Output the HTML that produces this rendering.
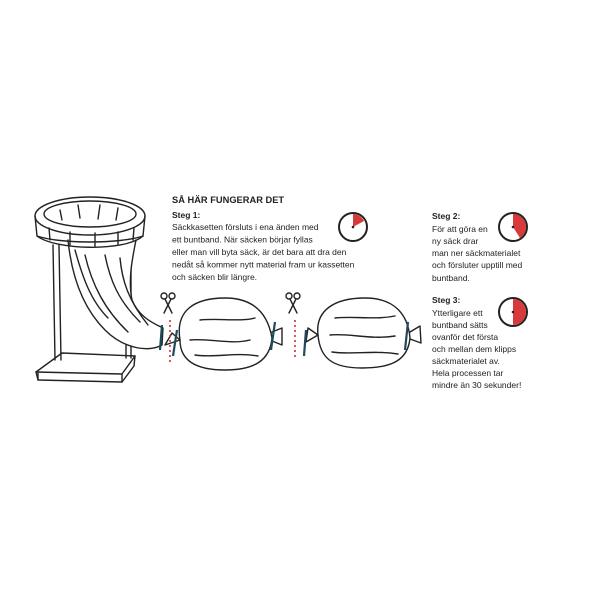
<!DOCTYPE html>
<html><head><meta charset="utf-8"><style>
body{margin:0;background:#fff;width:600px;height:600px;overflow:hidden}
svg{display:block}
text{font-family:"Liberation Sans",sans-serif;fill:#222}
</style></head><body>
<svg width="600" height="600" viewBox="0 0 600 600" xmlns="http://www.w3.org/2000/svg">
<g fill="none" stroke="#222" stroke-width="1.4" stroke-linejoin="round" stroke-linecap="round">
<!-- base -->
<path d="M36 372 L62 353 L135 356 L134 366 L122 382 L38 380 Z" fill="#fff"/>
<path d="M38 380 L38 372 M122 382 L122 374 L36 372 M122 374 L135 356"/>
<!-- poles -->
<path d="M53 245 L55 360 M59 245 L61 360 M126 250 L126 358 M131 250 L131 358"/>
<!-- bag from stand -->
<path d="M68 240 C72 280 85 310 105 330 C125 350 150 352 162 345 L163 328 C150 322 138 315 132 300 C128 280 132 260 136 240" fill="#fff"/>
<path d="M85 255 C92 285 105 310 128 332 M105 255 C110 280 118 300 140 322 M75 250 C82 275 90 300 108 318 M120 258 C122 280 128 300 148 325"/>
<!-- ring -->
<ellipse cx="90" cy="216" rx="55" ry="19" fill="#fff"/>
<path d="M35 216 L37 236 C55 250 125 252 143 236 L145 216"/>
<path d="M37 236 C60 244 120 244 143 236 M50 240 L49 228 M70 245 L70 232 M95 246 L95 233 M118 244 L118 232 M133 240 L134 228"/>
<ellipse cx="90" cy="214" rx="46" ry="13"/>
<path d="M60 210 L62 220 M78 205 L80 218 M100 205 L98 219 M118 208 L116 220"/>
<!-- bag 1 -->
<path d="M180 340 C175 310 195 298 225 298 C255 298 268 315 272 338 C270 360 255 370 225 370 C195 370 180 360 180 340 Z" fill="#fff"/>
<path d="M272 332 L282 328 L282 345 L272 341 M180 340 L172 333 L165 345 Z"/>
<path d="M190 340 C210 338 230 345 250 340 M200 320 C220 318 240 322 255 318 M195 355 C215 358 235 352 258 356"/>
<!-- bag 2 -->
<path d="M318 335 C315 310 335 298 365 298 C395 298 408 315 410 338 C408 360 392 368 362 368 C332 368 320 358 318 335 Z" fill="#fff"/>
<path d="M410 332 L420 326 L421 343 L410 339 M318 335 L308 328 L306 342 Z"/>
<path d="M330 335 C350 333 370 340 395 336 M335 318 C355 316 375 320 395 316 M332 352 C352 355 372 350 398 354"/>
<!-- scissors -->
<g transform="translate(168 305)"><circle cx="-4" cy="-9" r="3"/><circle cx="4" cy="-9" r="3"/><path d="M-3 -6 L4 8 M3 -6 L-4 8"/></g>
<g transform="translate(293 305)"><circle cx="-4" cy="-9" r="3"/><circle cx="4" cy="-9" r="3"/><path d="M-3 -6 L4 8 M3 -6 L-4 8"/></g>
<!-- timers -->
<circle cx="353" cy="227" r="14" stroke-width="2"/>
<circle cx="513" cy="227" r="14" stroke-width="2"/>
<circle cx="513" cy="312" r="14" stroke-width="2"/>
</g>
<!-- red dotted -->
<path d="M170 320 L170 362 M295 320 L295 358" stroke="#c33" stroke-width="1.6" stroke-dasharray="2 3"/>
<!-- ties -->
<path d="M162 325 L160 350 M177 330 L173 356 M275 322 L271 350 M306 330 L304 356 M408 322 L405 350" stroke="#1f4a5a" stroke-width="2.2"/>
<!-- timer wedges -->
<path d="M353 227 L353 214 A13 13 0 0 1 364 221 Z" fill="#d63a3a"/>
<path d="M513 227 L513 214 A13 13 0 0 1 520 238 Z" fill="#d63a3a"/>
<path d="M513 312 L513 299 A13 13 0 0 1 513 325 Z" fill="#d63a3a"/>
<circle cx="353" cy="227" r="1.3" fill="#222"/><circle cx="513" cy="227" r="1.3" fill="#222"/><circle cx="513" cy="312" r="1.3" fill="#222"/>
<!-- text -->
<text x="172" y="203" font-size="9.3" font-weight="bold">SÅ HÄR FUNGERAR DET</text>
<g font-size="8.5">
<text x="172" y="218" font-weight="bold">Steg 1:</text>
<text x="172" y="230">Säckkasetten försluts i ena änden med</text>
<text x="172" y="242.5">ett buntband. När säcken börjar fyllas</text>
<text x="172" y="255">eller man vill byta säck, är det bara att dra den</text>
<text x="172" y="267.5">nedåt så kommer nytt material fram ur kassetten</text>
<text x="172" y="280">och säcken blir längre.</text>
<text x="432" y="219" font-weight="bold">Steg 2:</text>
<text x="432" y="232">För att göra en</text>
<text x="432" y="244">ny säck drar</text>
<text x="432" y="256">man ner säckmaterialet</text>
<text x="432" y="268">och försluter upptill med</text>
<text x="432" y="281">buntband.</text>
<text x="432" y="303" font-weight="bold">Steg 3:</text>
<text x="432" y="316">Ytterligare ett</text>
<text x="432" y="328">buntband sätts</text>
<text x="432" y="340">ovanför det första</text>
<text x="432" y="352">och mellan dem klipps</text>
<text x="432" y="364">säckmaterialet av.</text>
<text x="432" y="376">Hela processen tar</text>
<text x="432" y="388">mindre än 30 sekunder!</text>
</g>
</svg>
</body></html>
